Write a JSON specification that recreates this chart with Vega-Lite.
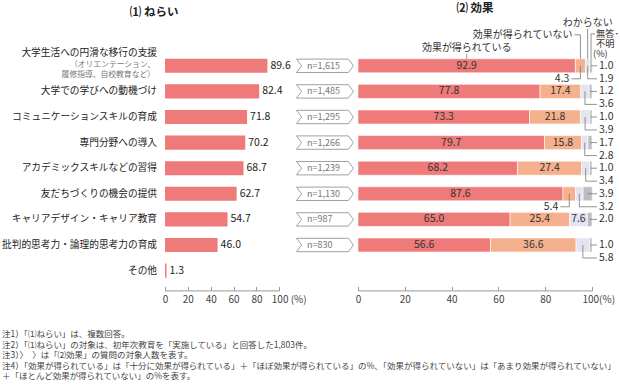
{
  "$schema": "https://vega.github.io/schema/vega-lite/v6.json",
  "background": "white",
  "padding": {"left": 2, "top": 3, "right": 0, "bottom": 0},
  "bounds": "flush",
  "spacing": 15,
  "config": {
    "view": {"stroke": null},
    "font": "Noto Sans CJK JP",
    "text": {"font": "Noto Sans CJK JP"},
    "rule": {"color": "#777", "strokeWidth": 0.8},
    "axis": {"labelOverlap": false, "labelBound": false, "labelFlush": false}
  },
  "datasets": {
    "nerai": [
      {"item": "大学生活への円滑な移行の支援", "value": 89.6, "n": "n=1,615"},
      {"item": "大学での学びへの動機づけ", "value": 82.4, "n": "n=1,485"},
      {"item": "コミュニケーションスキルの育成", "value": 71.8, "n": "n=1,295"},
      {"item": "専門分野への導入", "value": 70.2, "n": "n=1,266"},
      {"item": "アカデミックスキルなどの習得", "value": 68.7, "n": "n=1,239"},
      {"item": "友だちづくりの機会の提供", "value": 62.7, "n": "n=1,130"},
      {"item": "キャリアデザイン・キャリア教育", "value": 54.7, "n": "n=987"},
      {"item": "批判的思考力・論理的思考力の育成", "value": 46.0, "n": "n=830"},
      {"item": "その他", "value": 1.3, "n": null}
    ],
    "effect": [
      {"item": "大学生活への円滑な移行の支援", "cat": "効果が得られている", "order": 1, "value": 92.9},
      {"item": "大学生活への円滑な移行の支援", "cat": "効果が得られていない", "order": 2, "value": 4.3},
      {"item": "大学生活への円滑な移行の支援", "cat": "わからない", "order": 3, "value": 1.9},
      {"item": "大学生活への円滑な移行の支援", "cat": "無答・不明", "order": 4, "value": 1.0},
      {"item": "大学での学びへの動機づけ", "cat": "効果が得られている", "order": 1, "value": 77.8},
      {"item": "大学での学びへの動機づけ", "cat": "効果が得られていない", "order": 2, "value": 17.4},
      {"item": "大学での学びへの動機づけ", "cat": "わからない", "order": 3, "value": 3.6},
      {"item": "大学での学びへの動機づけ", "cat": "無答・不明", "order": 4, "value": 1.2},
      {"item": "コミュニケーションスキルの育成", "cat": "効果が得られている", "order": 1, "value": 73.3},
      {"item": "コミュニケーションスキルの育成", "cat": "効果が得られていない", "order": 2, "value": 21.8},
      {"item": "コミュニケーションスキルの育成", "cat": "わからない", "order": 3, "value": 3.9},
      {"item": "コミュニケーションスキルの育成", "cat": "無答・不明", "order": 4, "value": 1.0},
      {"item": "専門分野への導入", "cat": "効果が得られている", "order": 1, "value": 79.7},
      {"item": "専門分野への導入", "cat": "効果が得られていない", "order": 2, "value": 15.8},
      {"item": "専門分野への導入", "cat": "わからない", "order": 3, "value": 2.8},
      {"item": "専門分野への導入", "cat": "無答・不明", "order": 4, "value": 1.7},
      {"item": "アカデミックスキルなどの習得", "cat": "効果が得られている", "order": 1, "value": 68.2},
      {"item": "アカデミックスキルなどの習得", "cat": "効果が得られていない", "order": 2, "value": 27.4},
      {"item": "アカデミックスキルなどの習得", "cat": "わからない", "order": 3, "value": 3.4},
      {"item": "アカデミックスキルなどの習得", "cat": "無答・不明", "order": 4, "value": 1.0},
      {"item": "友だちづくりの機会の提供", "cat": "効果が得られている", "order": 1, "value": 87.6},
      {"item": "友だちづくりの機会の提供", "cat": "効果が得られていない", "order": 2, "value": 5.4},
      {"item": "友だちづくりの機会の提供", "cat": "わからない", "order": 3, "value": 3.2},
      {"item": "友だちづくりの機会の提供", "cat": "無答・不明", "order": 4, "value": 3.9},
      {"item": "キャリアデザイン・キャリア教育", "cat": "効果が得られている", "order": 1, "value": 65.0},
      {"item": "キャリアデザイン・キャリア教育", "cat": "効果が得られていない", "order": 2, "value": 25.4},
      {"item": "キャリアデザイン・キャリア教育", "cat": "わからない", "order": 3, "value": 7.6},
      {"item": "キャリアデザイン・キャリア教育", "cat": "無答・不明", "order": 4, "value": 2.0},
      {"item": "批判的思考力・論理的思考力の育成", "cat": "効果が得られている", "order": 1, "value": 56.6},
      {"item": "批判的思考力・論理的思考力の育成", "cat": "効果が得られていない", "order": 2, "value": 36.6},
      {"item": "批判的思考力・論理的思考力の育成", "cat": "わからない", "order": 3, "value": 5.8},
      {"item": "批判的思考力・論理的思考力の育成", "cat": "無答・不明", "order": 4, "value": 1.0}
    ]
  },
  "title": {
    "text": [
      "注1）「⑴ねらい」は、複数回答。",
      "注2）「⑴ねらい」の対象は、初年次教育を「実施している」と回答した1,803件。",
      "注3）〉　〉は「⑵効果」の質問の対象人数を表す。",
      "注4）「効果が得られている」は「十分に効果が得られている」＋「ほぼ効果が得られている」の%、「効果が得られていない」は「あまり効果が得られていない」",
      "　　　＋「ほとんど効果が得られていない」の%を表す。"
    ],
    "orient": "bottom",
    "anchor": "start",
    "font": "Noto Sans CJK JP",
    "fontSize": 8.5,
    "fontWeight": "normal",
    "color": "#444",
    "lineHeight": 10.4,
    "offset": 26
  },
  "hconcat": [
    {
      "width": 114.3,
      "height": 230.4,
      "title": {"text": "⑴ ねらい", "anchor": "middle", "frame": "bounds", "fontSize": 11.5, "fontWeight": "bold", "color": "#222", "offset": 30},
      "data": {"name": "nerai"},
      "encoding": {
        "y": {"field": "item", "type": "nominal", "axis": null,
          "scale": {"domain": ["大学生活への円滑な移行の支援", "大学での学びへの動機づけ", "コミュニケーションスキルの育成", "専門分野への導入", "アカデミックスキルなどの習得", "友だちづくりの機会の提供", "キャリアデザイン・キャリア教育", "批判的思考力・論理的思考力の育成", "その他"], "paddingInner": 0.45, "paddingOuter": 0.225}},
        "x": {"field": "value", "type": "quantitative", "scale": {"domain": [0, 100]},
          "axis": {"orient": "bottom", "offset": 7, "values": [0, 20, 40, 60, 80, 100], "title": null, "grid": false,
            "domainColor": "#999", "tickColor": "#999", "tickSize": -4, "labelPadding": 8,
            "labelFontSize": 10, "labelColor": "#444", "labelFont": "Noto Sans CJK JP", "labelFlush": false, "labelOverlap": false, "labelSeparation": 0,
            "labelExpr": "datum.value === 100 ? '100 (%)' : datum.label",
            "labelAlign": {"condition": {"test": "datum.value === 100", "value": "left"}, "value": "center"},
            "labelOffset": {"condition": {"test": "datum.value === 100", "value": -8}, "value": 0}}}
      },
      "layer": [
        {
          "mark": {"type": "bar", "color": "#EE7A7A"}
        },
        {
          "mark": {"type": "text", "align": "left", "dx": 3, "fontSize": 10.5, "color": "#222"},
          "encoding": {
            "text": {"field": "value", "type": "quantitative", "format": ".1f"}
          }
        },
        {
          "transform": [{"filter": "datum.item !== '大学生活への円滑な移行の支援'"}],
          "mark": {"type": "text", "align": "right", "dx": -8, "fontSize": 9.7, "color": "#222"},
          "encoding": {"x": {"datum": 0, "type": "quantitative"}, "text": {"field": "item"}}
        },
        {
          "transform": [{"filter": "datum.item === '大学生活への円滑な移行の支援'"}],
          "mark": {"type": "text", "align": "right", "dx": -8, "dy": -12.5, "fontSize": 9.7, "color": "#222"},
          "encoding": {"x": {"datum": 0, "type": "quantitative"}, "text": {"field": "item"}}
        },
        {
          "transform": [{"filter": "datum.item === '大学生活への円滑な移行の支援'"}],
          "mark": {"type": "text", "align": "right", "dx": -10, "dy": -1, "fontSize": 7.8, "color": "#777"},
          "encoding": {"x": {"datum": 0, "type": "quantitative"}, "text": {"value": "（オリエンテーション、"}}
        },
        {
          "transform": [{"filter": "datum.item === '大学生活への円滑な移行の支援'"}],
          "mark": {"type": "text", "align": "right", "dx": -10, "dy": 9, "fontSize": 7.8, "color": "#777"},
          "encoding": {"x": {"datum": 0, "type": "quantitative"}, "text": {"value": "履修指導、自校教育など）"}}
        }
      ]
    },
    {
      "hconcat": [
        {
          "width": 60,
          "height": 230.4,
          "data": {"name": "nerai"},
          "transform": [{"filter": "datum.n != null"}],
          "encoding": {
            "y": {"field": "item", "type": "nominal", "axis": null,
              "scale": {"domain": ["大学生活への円滑な移行の支援", "大学での学びへの動機づけ", "コミュニケーションスキルの育成", "専門分野への導入", "アカデミックスキルなどの習得", "友だちづくりの機会の提供", "キャリアデザイン・キャリア教育", "批判的思考力・論理的思考力の育成", "その他"], "paddingInner": 0.45, "paddingOuter": 0.225}}
          },
          "layer": [
            {
              "mark": {"type": "point", "shape": "M-1,-0.235L0.82,-0.235L1,0L0.82,0.235L-1,0.235L-0.82,0Z", "size": 3249, "filled": true, "fill": "white", "stroke": "#888", "strokeWidth": 0.8, "opacity": 1}
            },
            {
              "mark": {"type": "text", "align": "left", "dx": -18, "fontSize": 9, "color": "#777"},
              "encoding": {"text": {"field": "n"}}
            }
          ]
        },
        {
          "width": 234,
          "height": 230.4,
          "title": {"text": "⑵ 効果", "anchor": "middle", "frame": "group", "fontSize": 11.5, "fontWeight": "bold", "color": "#222", "offset": 3},
          "data": {"name": "effect"},
          "transform": [
            {"stack": "value", "groupby": ["item"], "sort": [{"field": "order", "order": "ascending"}], "as": ["x0", "x1"]},
            {"calculate": "(datum.x0 + datum.x1) / 2", "as": "mid"}
          ],
          "encoding": {
            "y": {"field": "item", "type": "nominal", "axis": null,
              "scale": {"domain": ["大学生活への円滑な移行の支援", "大学での学びへの動機づけ", "コミュニケーションスキルの育成", "専門分野への導入", "アカデミックスキルなどの習得", "友だちづくりの機会の提供", "キャリアデザイン・キャリア教育", "批判的思考力・論理的思考力の育成", "その他"], "paddingInner": 0.45, "paddingOuter": 0.225}}
          },
          "layer": [
            {
              "mark": {"type": "bar", "stroke": "white", "strokeWidth": 0.6},
              "encoding": {
                "x": {"field": "x0", "type": "quantitative", "scale": {"domain": [0, 100]},
                  "axis": {"orient": "bottom", "offset": 7, "values": [0, 20, 40, 60, 80, 100], "title": null, "grid": false,
                    "domainColor": "#999", "tickColor": "#999", "tickSize": -4, "labelPadding": 8,
                    "labelFontSize": 10, "labelColor": "#444", "labelFont": "Noto Sans CJK JP", "labelFlush": false, "labelOverlap": false,
                    "labelExpr": "datum.value === 100 ? '100(%)' : datum.label",
                    "labelAlign": {"condition": {"test": "datum.value === 100", "value": "left"}, "value": "center"},
                    "labelOffset": {"condition": {"test": "datum.value === 100", "value": -10}, "value": 0}}},
                "x2": {"field": "x1"},
                "color": {"field": "cat", "type": "nominal", "legend": null,
                  "scale": {"domain": ["効果が得られている", "効果が得られていない", "わからない", "無答・不明"], "range": ["#EE7A7A", "#F5B08D", "#E3E3F1", "#BDBDBD"]}}
              }
            },
            {
              "transform": [{"filter": "datum.value >= 7"}],
              "mark": {"type": "text", "fontSize": 10.5, "color": "#333"},
              "encoding": {"x": {"field": "mid", "type": "quantitative"}, "text": {"field": "value", "type": "quantitative", "format": ".1f"}}
            },
            {
              "transform": [{"filter": "datum.cat === '無答・不明'"}],
              "mark": {"type": "rule", "x2Offset": 5},
              "encoding": {"x": {"field": "mid", "type": "quantitative"}, "x2": {"datum": 100}}
            },
            {
              "transform": [{"filter": "datum.cat === '無答・不明'"}],
              "mark": {"type": "text", "align": "left", "dx": 7, "fontSize": 10.5, "color": "#333"},
              "encoding": {"x": {"datum": 100, "type": "quantitative"}, "text": {"field": "value", "type": "quantitative", "format": ".1f"}}
            },
            {
              "transform": [{"filter": "datum.cat === 'わからない' && datum.value < 7"}],
              "mark": {"type": "rule", "y2Offset": 13},
              "encoding": {"x": {"field": "mid", "type": "quantitative"}, "y2": {"field": "item"}}
            },
            {
              "transform": [{"filter": "datum.cat === 'わからない' && datum.value < 7"}],
              "mark": {"type": "rule", "yOffset": 13, "x2Offset": 5},
              "encoding": {"x": {"field": "mid", "type": "quantitative"}, "x2": {"datum": 100}}
            },
            {
              "transform": [{"filter": "datum.cat === 'わからない' && datum.value < 7"}],
              "mark": {"type": "text", "align": "left", "dx": 7, "yOffset": 13, "fontSize": 10.5, "color": "#333"},
              "encoding": {"x": {"datum": 100, "type": "quantitative"}, "text": {"field": "value", "type": "quantitative", "format": ".1f"}}
            },
            {
              "transform": [{"filter": "datum.cat === '効果が得られていない' && datum.value < 7"}],
              "mark": {"type": "rule", "y2Offset": 13},
              "encoding": {"x": {"field": "mid", "type": "quantitative"}, "y2": {"field": "item"}}
            },
            {
              "transform": [{"filter": "datum.cat === '効果が得られていない' && datum.value < 7"}],
              "mark": {"type": "rule", "yOffset": 13, "x2Offset": -9},
              "encoding": {"x": {"field": "mid", "type": "quantitative"}, "x2": {"field": "mid"}}
            },
            {
              "transform": [{"filter": "datum.cat === '効果が得られていない' && datum.value < 7"}],
              "mark": {"type": "text", "align": "right", "dx": -11, "yOffset": 13, "fontSize": 10.5, "color": "#333"},
              "encoding": {"x": {"field": "mid", "type": "quantitative"}, "text": {"field": "value", "type": "quantitative", "format": ".1f"}}
            },
            {
              "transform": [{"filter": "datum.item === '大学生活への円滑な移行の支援' && datum.cat === '効果が得られている'"}],
              "mark": {"type": "rule", "yOffset": -12, "y2Offset": -7},
              "encoding": {"x": {"field": "mid", "type": "quantitative"}, "y2": {"field": "item"}}
            },
            {
              "transform": [{"filter": "datum.item === '大学生活への円滑な移行の支援' && datum.cat === '効果が得られている'"}],
              "mark": {"type": "text", "yOffset": -18, "fontSize": 10, "color": "#333"},
              "encoding": {"x": {"field": "mid", "type": "quantitative"}, "text": {"field": "cat"}}
            },
            {
              "transform": [{"filter": "datum.item === '大学生活への円滑な移行の支援' && datum.cat === '効果が得られていない'"}],
              "mark": {"type": "rule", "yOffset": -31, "y2Offset": -7},
              "encoding": {"x": {"field": "mid", "type": "quantitative"}, "y2": {"field": "item"}}
            },
            {
              "transform": [{"filter": "datum.item === '大学生活への円滑な移行の支援' && datum.cat === '効果が得られていない'"}],
              "mark": {"type": "rule", "yOffset": -31, "x2Offset": -6},
              "encoding": {"x": {"field": "mid", "type": "quantitative"}, "x2": {"field": "mid"}}
            },
            {
              "transform": [{"filter": "datum.item === '大学生活への円滑な移行の支援' && datum.cat === '効果が得られていない'"}],
              "mark": {"type": "text", "align": "right", "dx": -8, "yOffset": -31, "fontSize": 10, "color": "#333"},
              "encoding": {"x": {"field": "mid", "type": "quantitative"}, "text": {"field": "cat"}}
            },
            {
              "transform": [{"filter": "datum.item === '大学生活への円滑な移行の支援' && datum.cat === 'わからない'"}],
              "mark": {"type": "rule", "yOffset": -37, "y2Offset": -7},
              "encoding": {"x": {"field": "mid", "type": "quantitative"}, "y2": {"field": "item"}}
            },
            {
              "transform": [{"filter": "datum.item === '大学生活への円滑な移行の支援' && datum.cat === 'わからない'"}],
              "mark": {"type": "text", "yOffset": -43, "fontSize": 10, "color": "#333"},
              "encoding": {"x": {"field": "mid", "type": "quantitative"}, "text": {"field": "cat"}}
            },
            {
              "transform": [{"filter": "datum.item === '大学生活への円滑な移行の支援' && datum.cat === '無答・不明'"}],
              "mark": {"type": "rule", "yOffset": -32, "y2Offset": -7},
              "encoding": {"x": {"field": "mid", "type": "quantitative"}, "y2": {"field": "item"}}
            },
            {
              "transform": [{"filter": "datum.item === '大学生活への円滑な移行の支援' && datum.cat === '無答・不明'"}],
              "mark": {"type": "rule", "yOffset": -32, "x2Offset": 4},
              "encoding": {"x": {"field": "mid", "type": "quantitative"}, "x2": {"field": "mid"}}
            },
            {
              "transform": [{"filter": "datum.item === '大学生活への円滑な移行の支援' && datum.cat === '無答・不明'"}],
              "mark": {"type": "text", "align": "left", "baseline": "middle", "dx": 5, "yOffset": -32, "fontSize": 9.2, "color": "#333"},
              "encoding": {"x": {"field": "mid", "type": "quantitative"}, "text": {"value": "無答･"}}
            },
            {
              "transform": [{"filter": "datum.item === '大学生活への円滑な移行の支援' && datum.cat === '無答・不明'"}],
              "mark": {"type": "text", "align": "left", "baseline": "middle", "dx": 5, "yOffset": -22, "fontSize": 9.2, "color": "#333"},
              "encoding": {"x": {"field": "mid", "type": "quantitative"}, "text": {"value": "不明"}}
            },
            {
              "transform": [{"filter": "datum.item === '大学生活への円滑な移行の支援' && datum.cat === '無答・不明'"}],
              "mark": {"type": "text", "align": "left", "dx": 2, "yOffset": -12, "fontSize": 9.2, "color": "#333"},
              "encoding": {"x": {"field": "mid", "type": "quantitative"}, "text": {"value": "(%)"}}
            }
          ]
        }
      ],
      "spacing": 3,
      "bounds": "flush"
    }
  ]
}
